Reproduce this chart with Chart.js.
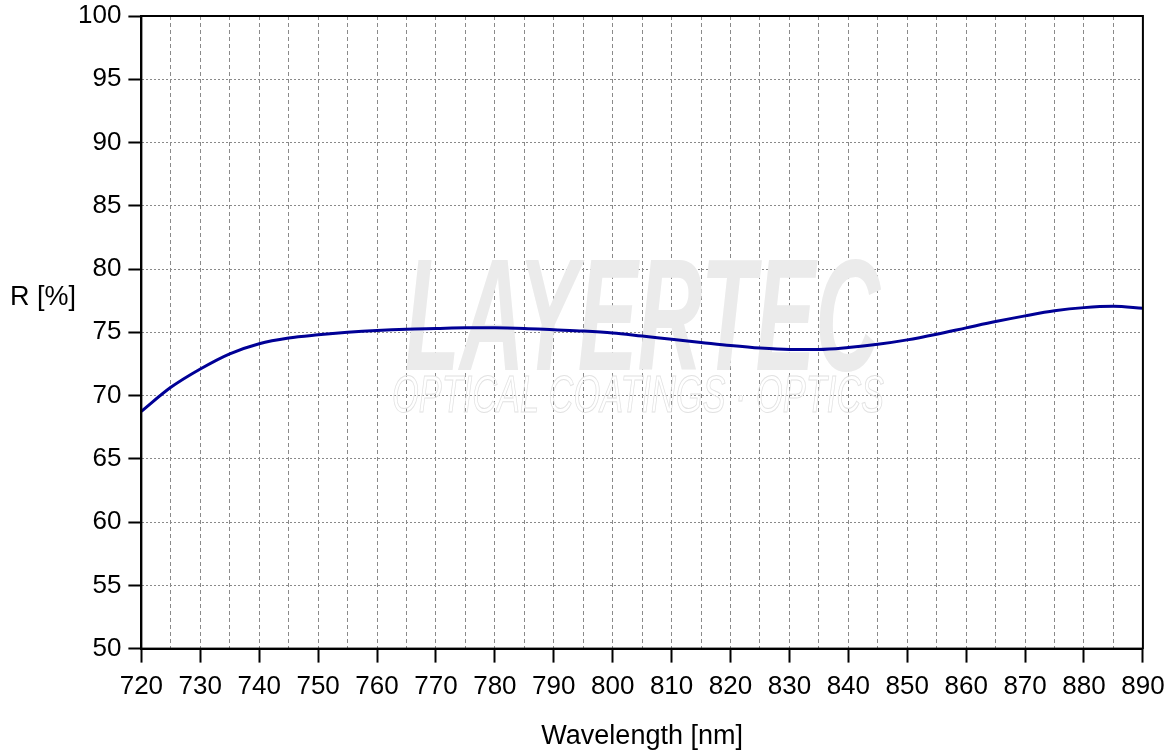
<!DOCTYPE html>
<html>
<head>
<meta charset="utf-8">
<script src="https://cdn.jsdelivr.net/npm/chart.js@4/dist/chart.umd.min.js"></script>
<style>
  html, body { margin: 0; padding: 0; background: #fff; }
  #wrap { width: 1173px; height: 754px; }
</style>
</head>
<body>
<div id="wrap"><canvas id="myChart"></canvas></div>
<script>
// wavelength in nm, reflectance in %
const wavelengths = [720, 725, 730, 735, 740, 745, 750, 755, 760, 765, 770, 775, 780, 785, 790, 795, 800,
  805, 810, 815, 820, 825, 830, 835, 840, 845, 850, 855, 860, 865, 870, 875, 880, 885, 890];
const reflectance = [68.75, 70.65, 72.1, 73.3, 74.1, 74.55, 74.8, 75.0, 75.15, 75.25, 75.3, 75.35, 75.35, 75.3, 75.2, 75.1, 74.95,
  74.7, 74.45, 74.2, 73.95, 73.75, 73.65, 73.65, 73.8, 74.05, 74.4, 74.85, 75.35, 75.85, 76.3, 76.7, 76.95, 77.05, 76.9];
const xTicks = [720, 890, 5];
const yTicks = [50, 100, 5];

const FONT = "'Liberation Sans', Arial, sans-serif";

// faint logo behind the curve + frame + horizontal y title
const extras = {
  id: 'extras',
  beforeDatasetsDraw(chart) {
    const ctx = chart.ctx;
    ctx.save();
    ctx.fillStyle = '#ebebeb';
    ctx.font = 'italic bold 160px ' + FONT;
    let w = ctx.measureText('LAYERTEC').width;
    ctx.translate(405, 370);
    ctx.scale(475 / w, 1);
    ctx.fillText('LAYERTEC', 0, 0);
    ctx.restore();

    ctx.save();
    ctx.strokeStyle = '#e2e2e2';
    ctx.lineWidth = 1;
    ctx.font = 'italic 52px ' + FONT;
    w = ctx.measureText('OPTICAL COATINGS · OPTICS').width;
    ctx.translate(392, 412);
    ctx.scale(492 / w, 1);
    ctx.strokeText('OPTICAL COATINGS · OPTICS', 0, 0);
    ctx.restore();
  },
  afterDraw(chart) {
    const {ctx, chartArea: a} = chart;
    ctx.save();
    ctx.strokeStyle = '#000';
    ctx.lineWidth = 2;
    ctx.strokeRect(a.left, a.top, a.right - a.left, a.bottom - a.top);
    ctx.fillStyle = '#000';
    ctx.font = '27px ' + FONT;
    ctx.textBaseline = 'middle';
    ctx.fillText('R [%]', 10, 298);
    ctx.restore();
  }
};

new Chart(document.getElementById('myChart'), {
  type: 'line',
  data: {
    datasets: [{
      data: wavelengths.map((w, i) => ({x: w, y: reflectance[i]})),
      borderColor: '#000096',
      borderWidth: 3,
      pointRadius: 0,
      cubicInterpolationMode: 'monotone',
      fill: false
    }]
  },
  options: {
    responsive: true,
    maintainAspectRatio: false,
    animation: false,
    layout: { padding: { left: 71, right: 30, top: 16, bottom: 1 } },
    plugins: { legend: { display: false }, tooltip: { enabled: false } },
    scales: {
      x: {
        type: 'linear',
        min: xTicks[0], max: xTicks[1],
        ticks: {
          stepSize: xTicks[2],
          color: '#000',
          font: { family: FONT, size: 26 },
          padding: 8.4,
          maxRotation: 0,
          autoSkip: false,
          callback: v => (v % 10 === 0 ? v : '')
        },
        grid: {
          color: '#8a8a8a',
          lineWidth: 1,
          tickLength: 14,
          tickWidth: 2,
          tickColor: c => (c.tick && c.tick.value % 10 === 0 ? '#000' : 'rgba(0,0,0,0)')
        },
        border: { display: true, color: '#000', width: 2, dash: [4, 3] },
        title: {
          display: true,
          text: 'Wavelength [nm]',
          color: '#000',
          font: { family: FONT, size: 27 },
          padding: { top: 10, bottom: 0 }
        }
      },
      y: {
        min: yTicks[0], max: yTicks[1],
        afterFit(s) { s.paddingTop = 0; s.paddingBottom = 0; },
        ticks: {
          stepSize: yTicks[2],
          color: '#000',
          font: { family: FONT, size: 26 },
          padding: 7
        },
        grid: {
          color: '#8a8a8a',
          lineWidth: 1,
          tickLength: 13,
          tickWidth: 2,
          tickColor: '#000'
        },
        border: { display: true, color: '#000', width: 2, dash: [2, 2] }
      }
    }
  },
  plugins: [extras]
});
</script>
</body>
</html>
